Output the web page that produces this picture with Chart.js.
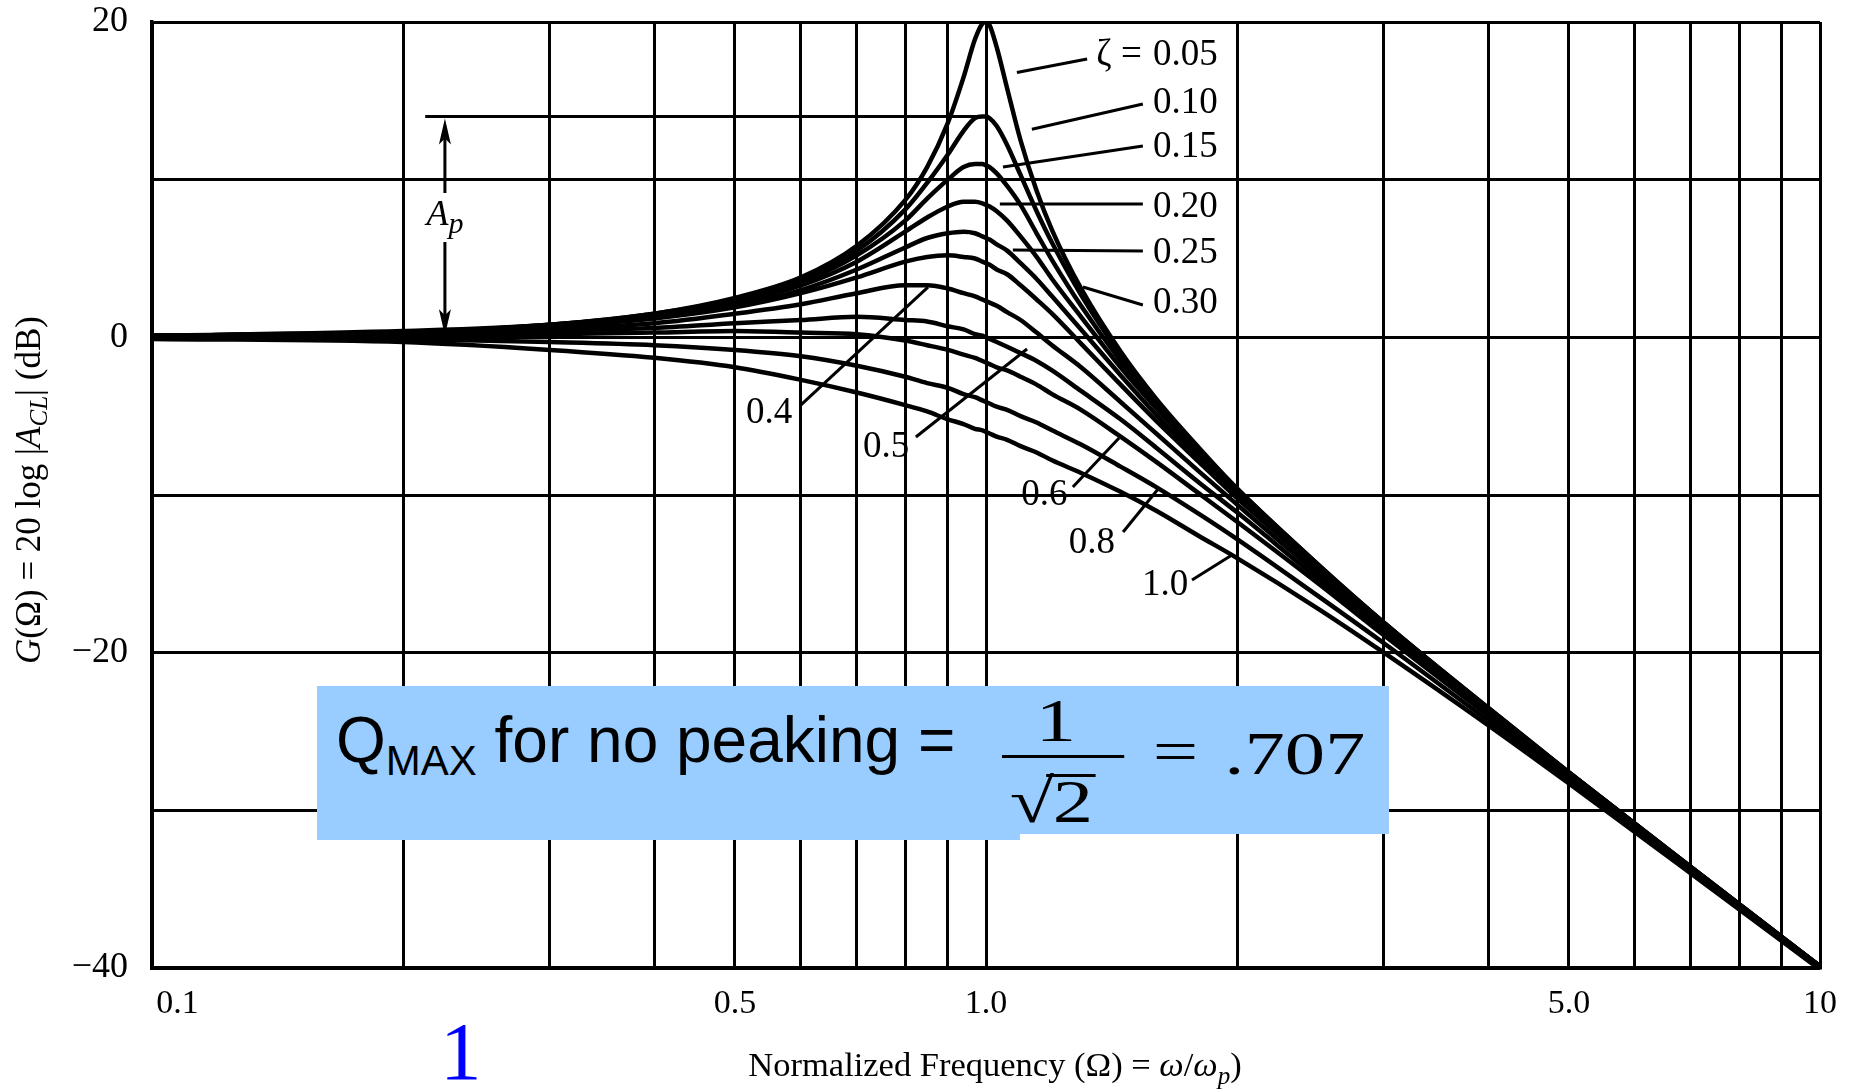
<!DOCTYPE html>
<html>
<head>
<meta charset="utf-8">
<script src="https://cdn.jsdelivr.net/npm/chart.js@4.4.0/dist/chart.umd.min.js"></script>
<style>
  html, body { margin: 0; padding: 0; background: #fff; }
  #wrap { position: relative; width: 1855px; height: 1092px; overflow: hidden; }
  #plot { position: absolute; left: 0; top: 0; }
  .blue { position: absolute; background: #99ccff; }
  .txt { position: absolute; white-space: nowrap; color: #000; }
  #eq { position: absolute; left: 1002px; top: 0; width: 300px; height: 900px; transform: scaleX(1.3); transform-origin: 0 0; }
  #eq .txt { font-family: 'Liberation Serif', serif; font-size: 62px; line-height: 62px; }
</style>
</head>
<body>
<div id="wrap">
  <canvas id="plot" width="1855" height="1092"></canvas>

  <!-- pasted note box -->
  <div class="blue" style="left:317px; top:686px; width:1072px; height:148px;"></div>
  <div class="blue" style="left:317px; top:834px; width:703px; height:6px;"></div>
  <div class="txt" style="left:336px; top:708px; font:64px 'Liberation Sans'; line-height:64px;">Q<span style="font-size:42px; vertical-align:-13px;">MAX</span> for no peaking =</div>
  <div id="eq">
    <div class="txt" style="left:26px; top:689px;">1</div>
    <div style="position:absolute; left:0; top:755px; width:94px; height:3px; background:#000;"></div>
    <div class="txt" style="left:6px; top:770px;">√</div>
    <div style="position:absolute; left:34px; top:774px; width:38px; height:3px; background:#000;"></div>
    <div class="txt" style="left:39px; top:770px;">2</div>
    <div class="txt" style="left:116px; top:720px;">=</div>
    <div class="txt" style="left:171px; top:722px;">.707</div>
  </div>

  <div class="txt" style="left:440px; top:1010px; font:83px 'Liberation Serif'; line-height:83px; color:#0000ff;">1</div>
</div>

<script>
// Normalized frequency samples (Omega)
const freq = [0.1, 0.2, 0.3, 0.4, 0.5, 0.6, 0.7, 0.8, 0.85, 0.9, 0.94, 0.97, 0.99, 1.0, 1.01, 1.03, 1.06, 1.1, 1.15, 1.2, 1.3, 1.45, 1.6, 1.8, 2.0, 2.5, 3, 4, 5, 7, 10];

// Gain in dB
const gainZ005 = [0.1, 0.4, 0.8, 1.5, 2.5, 3.8, 5.8, 8.7, 10.8, 13.6, 16.5, 18.9, 19.9, 20.0, 19.8, 18.4, 15.8, 12.5, 9.3, 6.8, 3.1, -0.9, -3.9, -7.0, -9.6, -14.4, -18.1, -23.5, -27.6, -33.6, -39.9];
const gainZ010 = [0.1, 0.3, 0.8, 1.5, 2.4, 3.7, 5.5, 8.1, 9.8, 11.6, 13.1, 13.9, 14.0, 14.0, 13.9, 13.4, 12.2, 10.3, 8.0, 6.0, 2.7, -1.1, -4.0, -7.1, -9.6, -14.4, -18.1, -23.5, -27.6, -33.6, -39.9];
const gainZ015 = [0.1, 0.3, 0.8, 1.4, 2.3, 3.5, 5.2, 7.4, 8.8, 10.0, 10.8, 11.0, 11.0, 10.9, 10.8, 10.4, 9.6, 8.4, 6.6, 4.9, 2.0, -1.5, -4.3, -7.3, -9.7, -14.5, -18.1, -23.6, -27.6, -33.6, -39.9];
const gainZ020 = [0.1, 0.3, 0.7, 1.4, 2.2, 3.3, 4.8, 6.7, 7.6, 8.3, 8.6, 8.6, 8.5, 8.4, 8.3, 8.0, 7.4, 6.4, 5.1, 3.7, 1.3, -1.9, -4.5, -7.4, -9.8, -14.6, -18.2, -23.6, -27.6, -33.6, -39.9];
const gainZ025 = [0.1, 0.3, 0.7, 1.3, 2.0, 3.0, 4.3, 5.7, 6.3, 6.6, 6.7, 6.6, 6.4, 6.3, 6.2, 5.9, 5.5, 4.7, 3.7, 2.6, 0.5, -2.4, -4.9, -7.7, -10.0, -14.6, -18.2, -23.6, -27.7, -33.7, -39.9];
const gainZ030 = [0.1, 0.3, 0.7, 1.2, 1.9, 2.8, 3.8, 4.8, 5.1, 5.2, 5.1, 5.0, 4.8, 4.7, 4.6, 4.3, 4.0, 3.3, 2.4, 1.5, -0.4, -3.0, -5.3, -7.9, -10.2, -14.7, -18.3, -23.6, -27.7, -33.7, -39.9];
const gainZ040 = [0.1, 0.2, 0.5, 0.9, 1.5, 2.1, 2.8, 3.3, 3.3, 3.1, 2.8, 2.6, 2.4, 2.3, 2.2, 2.0, 1.6, 1.1, 0.3, -0.5, -1.9, -4.1, -6.1, -8.5, -10.6, -15.0, -18.4, -23.7, -27.7, -33.7, -39.9];
const gainZ050 = [0.0, 0.2, 0.4, 0.6, 0.9, 1.1, 1.3, 1.1, 1.0, 0.7, 0.5, 0.2, 0.1, 0.0, -0.1, -0.3, -0.6, -1.0, -1.5, -2.1, -3.4, -5.2, -7.0, -9.2, -11.1, -15.3, -18.6, -23.8, -27.8, -33.7, -40.0];
const gainZ060 = [0.0, 0.1, 0.2, 0.3, 0.4, 0.3, 0.2, -0.2, -0.5, -0.8, -1.1, -1.3, -1.5, -1.6, -1.7, -1.9, -2.1, -2.5, -3.0, -3.6, -4.6, -6.3, -7.9, -9.9, -11.7, -15.6, -18.9, -24.0, -27.9, -33.8, -40.0];
const gainZ080 = [0.0, -0.1, -0.3, -0.5, -0.8, -1.2, -1.8, -2.5, -2.9, -3.2, -3.6, -3.8, -4.0, -4.1, -4.2, -4.4, -4.6, -5.0, -5.4, -5.9, -6.8, -8.2, -9.5, -11.2, -12.8, -16.4, -19.4, -24.3, -28.1, -33.9, -40.0];
const gainZ100 = [-0.1, -0.3, -0.8, -1.3, -1.9, -2.7, -3.5, -4.3, -4.7, -5.2, -5.5, -5.8, -5.9, -6.0, -6.1, -6.3, -6.5, -6.9, -7.3, -7.8, -8.6, -9.8, -11.0, -12.6, -14.0, -17.2, -20.0, -24.6, -28.3, -34.0, -40.1];

const curves = [gainZ005, gainZ010, gainZ015, gainZ020, gainZ025, gainZ030, gainZ040, gainZ050, gainZ060, gainZ080, gainZ100];
const zetaNames = ['0.05', '0.10', '0.15', '0.20', '0.25', '0.30', '0.4', '0.5', '0.6', '0.8', '1.0'];

// Axis ticks and labels (leading spaces nudge the first label right, as printed)
const xGridValues = [0.1, 0.2, 0.3, 0.4, 0.5, 0.6, 0.7, 0.8, 0.9, 1, 2, 3, 4, 5, 6, 7, 8, 9, 10];
const xTickLabels = { 0.1: '      0.1', 0.5: '0.5', 1: '1.0', 5: '5.0', 10: '10' };
const yTickLabels = { 20: '20', 0: '0', '-20': '\u221220', '-40': '\u221240' };

// Where each curve label sits (Omega, dB) and its leader line
const labelSpots = [
  { at: [1.586, 17.9], line: [1.089, 16.8, 1.322, 17.65] },
  { at: [1.586, 14.86], line: [1.135, 13.2, 1.542, 14.8] },
  { at: [1.586, 12.07], line: [1.048, 10.8, 1.542, 12.14] },
  { at: [1.586, 8.27], line: [1.039, 8.46, 1.542, 8.46] },
  { at: [1.586, 5.35], line: [1.077, 5.54, 1.542, 5.48] },
  { at: [1.586, 2.18], line: [1.307, 3.19, 1.542, 2.05] },
  { at: [0.5156, -4.8], line: [0.600, -4.29, 0.852, 3.19] },
  { at: [0.712, -6.95], line: [0.824, -6.32, 1.120, -0.74] },
  { at: [1.102, -10.0], line: [1.271, -9.49, 1.444, -6.38] },
  { at: [1.257, -13.04], line: [1.460, -12.35, 1.612, -9.56] },
  { at: [1.538, -15.71], line: [1.766, -15.39, 1.972, -13.8] }
];

// Peak marker A_p: level line from Omega 0.2126 to 1.0 at the zeta = 0.10 peak
const apLevel = 14;
const apLine = [0.2126, 1.0];
const apArrowX = 0.2245;
const apGap = [9.15, 6.05];

const serif = "'Liberation Serif', 'Times New Roman', serif";

function drawRuns(ctx, runs, cx, baseY) {
  let total = 0;
  runs.forEach(r => { ctx.font = r.font; r.w = ctx.measureText(r.t).width; total += r.w; });
  let xx = cx - total / 2;
  runs.forEach(r => {
    ctx.font = r.font;
    ctx.fillText(r.t, xx, baseY + (r.dy || 0));
    xx += r.w;
  });
}

function arrowHead(ctx, x, y, dir) {
  ctx.beginPath();
  ctx.moveTo(x, y);
  ctx.lineTo(x - 6, y + dir * 26);
  ctx.lineTo(x, y + dir * 20);
  ctx.lineTo(x + 6, y + dir * 26);
  ctx.closePath();
  ctx.fill();
}

const annotate = {
  id: 'annotate',
  afterDatasetsDraw(chart) {
    const { ctx, scales: { x, y } } = chart;
    const px = v => x.getPixelForValue(v);
    const py = v => y.getPixelForValue(v);
    ctx.save();
    ctx.strokeStyle = '#000';
    ctx.fillStyle = '#000';
    ctx.lineWidth = 3;
    ctx.lineCap = 'butt';

    // leader lines
    labelSpots.forEach(s => {
      const [x1, y1, x2, y2] = s.line;
      ctx.beginPath();
      ctx.moveTo(px(x1), py(y1));
      ctx.lineTo(px(x2), py(y2));
      ctx.stroke();
    });

    // curve labels
    ctx.font = '37px ' + serif;
    ctx.textBaseline = 'middle';
    ctx.textAlign = 'left';
    labelSpots.forEach((s, i) => {
      ctx.fillText(zetaNames[i], px(s.at[0]), py(s.at[1]));
    });
    ctx.textAlign = 'right';
    ctx.fillText('\u03B6 = ', px(labelSpots[0].at[0]) - 2, py(labelSpots[0].at[1]));

    // A_p marker
    const ax = px(apArrowX);
    ctx.beginPath();
    ctx.moveTo(px(apLine[0]), py(apLevel));
    ctx.lineTo(px(apLine[1]), py(apLevel));
    ctx.stroke();
    ctx.beginPath();
    ctx.moveTo(ax, py(apLevel) + 18);
    ctx.lineTo(ax, py(apGap[0]));
    ctx.moveTo(ax, py(apGap[1]));
    ctx.lineTo(ax, py(0) - 18);
    ctx.stroke();
    arrowHead(ctx, ax, py(apLevel) + 2, 1);
    arrowHead(ctx, ax, py(0) - 2, -1);
    ctx.textAlign = 'left';
    ctx.textBaseline = 'alphabetic';
    drawRuns(ctx, [
      { t: 'A', font: 'italic 36px ' + serif },
      { t: 'p', font: 'italic 30px ' + serif, dy: 8 }
    ], ax, py(7.1));

    // axis titles
    drawRuns(ctx, [
      { t: 'Normalized Frequency (\u03A9) = ', font: '34.5px ' + serif },
      { t: '\u03C9', font: 'italic 34.5px ' + serif },
      { t: '/', font: '34.5px ' + serif },
      { t: '\u03C9', font: 'italic 34.5px ' + serif },
      { t: 'p', font: 'italic 25px ' + serif, dy: 8 },
      { t: ')', font: '34.5px ' + serif }
    ], (chart.chartArea.left + chart.chartArea.right) / 2 + 9, 1076);

    ctx.translate(40, 490);
    ctx.rotate(-Math.PI / 2);
    drawRuns(ctx, [
      { t: 'G', font: 'italic 35px ' + serif },
      { t: '(\u03A9) = 20 log |', font: '35px ' + serif },
      { t: 'A', font: 'italic 35px ' + serif },
      { t: 'CL', font: 'italic 25px ' + serif, dy: 7 },
      { t: '| (dB)', font: '35px ' + serif }
    ], 0, 0);
    ctx.restore();
  }
};

const datasets = curves.map((c, i) => ({
  label: zetaNames[i],
  data: freq.map((f, j) => ({ x: f, y: c[j] })),
  borderColor: '#000',
  borderWidth: 4.5,
  pointRadius: 0,
  fill: false,
  cubicInterpolationMode: 'monotone'
}));

new Chart(document.getElementById('plot'), {
  type: 'line',
  data: { datasets },
  options: {
    responsive: false,
    animation: false,
    devicePixelRatio: 1,
    layout: { padding: { top: 22, right: 35, left: 0, bottom: 0 } },
    plugins: { legend: { display: false }, tooltip: { enabled: false } },
    scales: {
      x: {
        type: 'logarithmic',
        min: 0.1,
        max: 10,
        afterBuildTicks: s => { s.ticks = xGridValues.map(v => ({ value: v })); },
        afterFit: s => { s.height = 124; s.paddingLeft = 0; s.paddingRight = 0; },
        grid: { color: '#000', lineWidth: 3, drawTicks: false },
        border: { color: '#000', width: 3.5 },
        ticks: {
          autoSkip: false,
          maxRotation: 0,
          padding: 16,
          color: '#000',
          font: { family: serif, size: 34 },
          callback: v => xTickLabels[v] ?? ''
        }
      },
      y: {
        min: -40,
        max: 20,
        afterFit: s => { s.width = 152; s.paddingTop = 0; s.paddingBottom = 0; },
        grid: { color: '#000', lineWidth: 3, drawTicks: false },
        border: { color: '#000', width: 3.5 },
        ticks: {
          stepSize: 10,
          padding: 24,
          color: '#000',
          font: { family: serif, size: 36 },
          callback: v => yTickLabels[v] ?? ''
        }
      }
    }
  },
  plugins: [annotate]
});
</script>
</body>
</html>
